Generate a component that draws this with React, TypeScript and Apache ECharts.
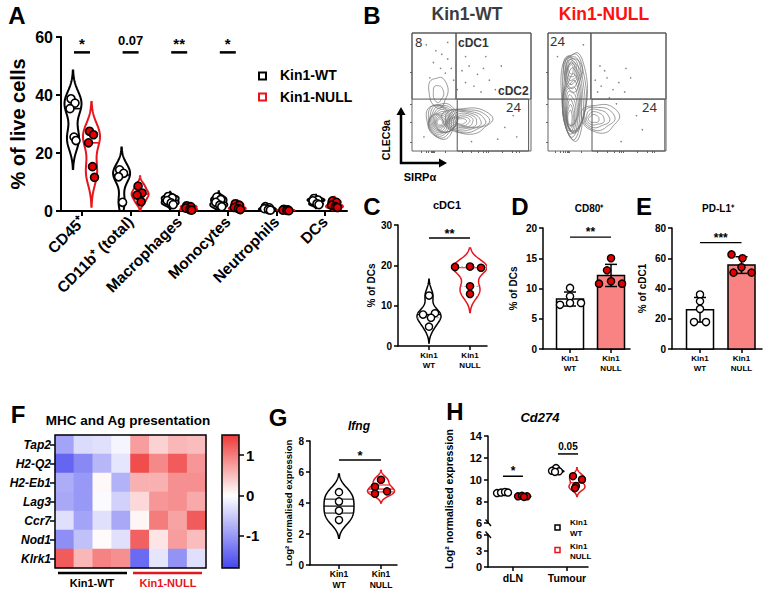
import React, { useEffect, useRef } from "react";
import * as echarts from "echarts";

// ================= DATA =================
// Panel A
const aCategories = ["CD45⁺", "CD11b⁺ (total)", "Macrophages", "Monocytes", "Neutrophils", "DCs"];
const aWT = [
  [38.7, 37.2, 35.3, 25.5, 24.3],
  [14.2, 13.0, 11.8, 3.0],
  [5.0, 4.5, 3.6, 2.8, 2.2],
  [4.8, 4.0, 3.0, 2.0, 1.5],
  [1.5, 1.1, 0.8, 0.5, 0.3],
  [4.3, 3.8, 3.5, 2.5, 2.2],
];
const aNULL = [
  [27.5, 26.3, 23.5, 15.3, 11.6],
  [8.6, 6.2, 5.5, 3.2],
  [1.8, 1.5, 1.0, 0.5, 0.3],
  [2.5, 2.0, 1.2, 0.8, 0.5],
  [0.6, 0.4, 0.3, 0.2, 0.1],
  [3.5, 3.0, 2.0, 1.5, 1.2],
];
const aSigText = ["*", "0.07", "**", "*"];
const aSigLevel = 54.7;

// Panel B (flow plots, 0-100 display units)
const bWTGates = [[0, 44, 37, 100], [37, 44, 100, 100], [38, 0, 98, 44]];
const bNULLGates = [[0, 44, 36.4, 100], [36.4, 44, 100, 100], [37.3, 0, 99, 44]];
// contour families: [cx, cy, rx, ry, peakX, peakY, levels]
const bWTContours = [
  [25, 26, 13, 15, 23, 24, 12],
  [46, 26, 21, 11, 40, 25, 8],
  [22, 50, 8, 13, 22, 47, 2],
];
const bNULLContours = [
  [22, 48, 11, 37, 18, 24, 13],
  [21, 67, 8, 16, 19, 70, 6],
  [44, 28, 16, 12, 37, 27, 5],
];
const bWTDots = [[12, 90], [20, 85], [25, 82], [30, 78], [18, 75], [33, 70], [28, 66], [15, 62], [35, 60], [42, 68], [48, 72], [55, 65], [60, 70], [45, 58], [52, 55], [65, 60], [58, 50], [70, 52], [38, 52], [30, 92], [62, 80], [75, 72], [80, 48], [85, 30], [72, 10], [50, 8], [10, 12], [78, 20], [88, 12], [45, 80], [24, 70]];
const bNULLDots = [[40, 60], [45, 55], [50, 62], [55, 52], [48, 68], [60, 58], [65, 50], [42, 50], [52, 45], [70, 62], [58, 40], [75, 30], [62, 8], [30, 90], [8, 80], [44, 72], [66, 70], [80, 18]];
const bWTLabels = ["8", "cDC1", "cDC2", "24"];
const bNULLLabels = ["24", "24"];

// Panel C (% of DCs, cDC1)
const cWT = [12.5, 7.8, 8.1, 7.0, 4.8];
const cNULL = [19.6, 19.7, 19.4, 14.8, 12.9];
// Panel D (CD80+)
const dWT = [10.1, 8.7, 7.3, 7.6, 7.6];
const dNULL = [15.0, 13.0, 10.8, 11.2, 10.8];
// Panel E (PD-L1+)
const eWT = [36.0, 31.5, 26.5, 17.8, 17.8];
const eNULL = [62.5, 60.0, 54.0, 50.5, 50.5];
const groupLabels = ["Kin1\nWT", "Kin1\nNULL"];

// Panel F heatmap
const fGenes = ["Tap2", "H2-Q2", "H2-Eb1", "Lag3", "Ccr7", "Nod1", "Klrk1"];
const fValues = [
  [-0.9, -0.35, -0.3, -0.1, 0.75, 0.35, 0.55, 0.5],
  [-1.5, -1.15, -0.7, -0.25, 1.35, 0.9, 1.25, 0.8],
  [-0.8, -1.0, 0.05, -0.75, 0.6, 0.6, 0.85, 0.85],
  [-0.85, -1.0, -0.05, -0.45, 0.3, 0.8, 0.85, 0.65],
  [-0.3, -0.9, -0.3, -0.85, 0.08, 1.0, 0.7, 1.25],
  [-1.1, -0.6, 0.03, -0.3, 1.2, 0.2, 0.75, 0.5],
  [1.25, 0.55, 0.95, 0.85, -1.45, -0.25, -1.05, -0.3],
];
const fMin = -1.8;
const fMax = 1.5;
const fTicks = [-1, 0, 1];

// Panel G (Ifng)
const gWT = [4.7, 4.1, 3.5, 2.9];
const gNULL = [5.5, 5.05, 4.6, 4.75];

// Panel H (Cd274)
const hCategories = ["dLN", "Tumour"];
const hWT = [[8.75, 8.8, 8.85, 8.8], [11.05, 10.8, 10.75, 10.7]];
const hNULL = [[8.45, 8.5, 8.45, 8.4], [10.3, 10.0, 9.4, 9.2]];

// ================= STYLE / LAYOUT =================
const FONT = "'Liberation Sans', Arial, Helvetica, sans-serif";
const RED = "#e8141b";
const PT_RED = "#e30000";
const BAR_RED = "#f98383";

const jitA = [-2, 2, -3, 1, 3];
const jitC = { wt: [0, -6, 6, 2, 0], nu: [-15, 0, 11, 0, 0] };
const jitD = { wt: [0, 0, -10, 0, 11], nu: [0, -4, -12, 0, 11] };
const jitE = { wt: [0, 0, 0, -6, 6], nu: [-10, 1, 0, -8, 10] };
const jitG = { wt: [0, 0, 0, 0], nu: [0, -6, -6, 6] };
const jitH = { wt: [[-16, -12, -8, -5], [-11, -15, -8, -12]], nu: [[5, 9, 14, 11], [6, 15, 9, 8]] };

// ================= HELPERS =================
const mean = (a: number[]) => a.reduce((s, v) => s + v, 0) / a.length;
const sdev = (a: number[]) => {
  const m = mean(a);
  return Math.sqrt(a.reduce((s, v) => s + (v - m) * (v - m), 0) / (a.length - 1));
};
const quantile = (a: number[], q: number) => {
  const s = [...a].sort((x, y) => x - y);
  const pos = (s.length - 1) * q;
  const lo = Math.floor(pos), hi = Math.ceil(pos);
  return s[lo] + (s[hi] - s[lo]) * (pos - lo);
};
const bandwidth = (a: number[]) => Math.max(0.75 * 1.06 * sdev(a) * Math.pow(a.length, -0.2), 0.05);

type Violin = { x: number; dx: number; vals: number[]; color: string; hw: number; lw: number; quart?: boolean; dash?: boolean };

function violinSeries(ai: number, violins: Violin[]) {
  return {
    type: "custom", xAxisIndex: ai, yAxisIndex: ai, z: 3, clip: true, silent: true,
    data: violins.map((v) => [v.x, mean(v.vals)]),
    renderItem: (params: any, api: any) => {
      const v = violins[params.dataIndex];
      const h = bandwidth(v.vals);
      const lo = Math.min(...v.vals) - 2.5 * h;
      const hi = Math.max(...v.vals) + 2.5 * h;
      const dens = (y: number) => v.vals.reduce((s, xi) => s + Math.exp(-0.5 * ((y - xi) / h) ** 2), 0);
      const N = 90;
      const ys: number[] = [];
      for (let i = 0; i <= N; i++) ys.push(lo + ((hi - lo) * i) / N);
      const ds = ys.map(dens);
      const dmax = Math.max(...ds);
      const left: number[][] = [], right: number[][] = [];
      ys.forEach((y, i) => {
        const c = api.coord([v.x, y]);
        const w = (v.hw * ds[i]) / dmax;
        left.push([c[0] + v.dx - w, c[1]]);
        right.push([c[0] + v.dx + w, c[1]]);
      });
      const children: any[] = [
        { type: "polygon", shape: { points: left.concat(right.reverse()) }, style: { fill: "none", stroke: v.color, lineWidth: v.lw } },
      ];
      const qs = v.quart ? [0.25, 0.5, 0.75] : [0.5];
      qs.forEach((q) => {
        const y = quantile(v.vals, q);
        const w = (v.hw * dens(y)) / dmax;
        const c = api.coord([v.x, y]);
        children.push({
          type: "line",
          shape: { x1: c[0] + v.dx - w, y1: c[1], x2: c[0] + v.dx + w, y2: c[1] },
          style: { stroke: q === 0.5 ? v.color : v.dash ? "#999" : v.color, lineWidth: q === 0.5 ? Math.max(1, v.lw * 0.8) : 1, lineDash: q !== 0.5 && v.dash ? [2, 2] : null },
        });
      });
      return { type: "group", children };
    },
  };
}

type Pt = { x: number; v: number; dx: number; fill: string; r: number };
function pointSeries(ai: number, pts: Pt[], lw = 1.4) {
  return {
    type: "custom", xAxisIndex: ai, yAxisIndex: ai, z: 6, clip: false, silent: true,
    data: pts.map((p) => [p.x, p.v]),
    renderItem: (params: any, api: any) => {
      const p = pts[params.dataIndex];
      const c = api.coord([api.value(0), api.value(1)]);
      return { type: "circle", shape: { cx: c[0] + p.dx, cy: c[1], r: p.r }, style: { fill: p.fill, stroke: "#000", lineWidth: lw } };
    },
  };
}

type Sig = { x1: number; x2: number; dx1: number; dx2: number; y: number; text: string };
function sigSeries(ai: number, items: Sig[], st: { fs: number; starDy: number; numDy: number; lw: number }) {
  return {
    type: "custom", xAxisIndex: ai, yAxisIndex: ai, z: 7, clip: false, silent: true,
    data: items.map((s) => [s.x1, s.y, s.x2]),
    renderItem: (params: any, api: any) => {
      const s = items[params.dataIndex];
      const a = api.coord([api.value(0), api.value(1)]);
      const b = api.coord([api.value(2), api.value(1)]);
      const x1 = a[0] + s.dx1, x2 = b[0] + s.dx2;
      const isStar = /^\*+$/.test(s.text);
      return {
        type: "group",
        children: [
          { type: "line", shape: { x1, y1: a[1], x2, y2: a[1] }, style: { stroke: "#000", lineWidth: st.lw } },
          {
            type: "text", x: (x1 + x2) / 2, y: a[1] - (isStar ? st.starDy : st.numDy),
            style: { text: s.text, fontSize: isStar ? st.fs + 2 : st.fs, fontWeight: "bold", fontFamily: FONT, fill: "#000", align: "center", verticalAlign: "middle" },
          },
        ],
      };
    },
  };
}

type Bar = { x: number; vals: number[]; fill: string };
function barSeries(ai: number, bars: Bar[], halfW: number) {
  return {
    type: "custom", xAxisIndex: ai, yAxisIndex: ai, z: 2, silent: true,
    data: bars.map((b) => [b.x, mean(b.vals)]),
    renderItem: (params: any, api: any) => {
      const b = bars[params.dataIndex];
      const m = api.value(1);
      const sd = sdev(b.vals);
      const top = api.coord([b.x, m]);
      const base = api.coord([b.x, 0]);
      const hi = api.coord([b.x, m + sd]);
      const lo = api.coord([b.x, m - sd]);
      const cap = 6;
      return {
        type: "group",
        children: [
          { type: "rect", shape: { x: top[0] - halfW, y: top[1], width: 2 * halfW, height: base[1] - top[1] }, style: { fill: b.fill, stroke: "#000", lineWidth: 1.5 } },
          { type: "line", shape: { x1: top[0], y1: hi[1], x2: top[0], y2: lo[1] }, style: { stroke: "#000", lineWidth: 1.5 } },
          { type: "line", shape: { x1: top[0] - cap, y1: hi[1], x2: top[0] + cap, y2: hi[1] }, style: { stroke: "#000", lineWidth: 1.5 } },
          { type: "line", shape: { x1: top[0] - cap, y1: lo[1], x2: top[0] + cap, y2: lo[1] }, style: { stroke: "#000", lineWidth: 1.5 } },
        ],
      };
    },
  };
}

function contourSeries(ai: number, fams: number[][]) {
  return {
    type: "custom", xAxisIndex: ai, yAxisIndex: ai, z: 2, clip: true, silent: true,
    data: fams.map((f) => [f[0], f[1]]),
    renderItem: (params: any, api: any) => {
      const [cx, cy, rx, ry, px, py, n] = fams[params.dataIndex];
      const children: any[] = [];
      for (let k = 0; k < n; k++) {
        const s = 1 - (k / n) * 0.9;
        const ccx = px + (cx - px) * s, ccy = py + (cy - py) * s;
        const pts: number[][] = [];
        for (let t = 0; t < 48; t++) {
          const th = (t / 48) * Math.PI * 2;
          const wob = 1 + 0.07 * Math.sin(3 * th + k * 0.9) + 0.04 * Math.cos(5 * th + k);
          pts.push(api.coord([ccx + rx * s * wob * Math.cos(th), ccy + ry * s * wob * Math.sin(th)]));
        }
        children.push({ type: "polygon", shape: { points: pts }, style: { fill: "none", stroke: "#707070", lineWidth: 0.7 } });
      }
      return { type: "group", children };
    },
  };
}

function gateSeries(ai: number, gates: number[][]) {
  return {
    type: "custom", xAxisIndex: ai, yAxisIndex: ai, z: 4, clip: false, silent: true,
    data: gates.map((g) => [g[0], g[1], g[2], g[3]]),
    renderItem: (params: any, api: any) => {
      const a = api.coord([api.value(0), api.value(1)]);
      const b = api.coord([api.value(2), api.value(3)]);
      return { type: "rect", shape: { x: a[0], y: b[1], width: b[0] - a[0], height: a[1] - b[1] }, style: { fill: "none", stroke: "#555", lineWidth: 1 } };
    },
  };
}

const hmColor = (v: number) => {
  const white = [255, 255, 255];
  const end = v >= 0 ? [238, 58, 58] : [70, 70, 238];
  const t = v >= 0 ? Math.min(1, v / fMax) : Math.min(1, v / fMin);
  const c = white.map((w, i) => Math.round(w + (end[i] - w) * t));
  return `rgb(${c[0]},${c[1]},${c[2]})`;
};

const txt = (x: number, y: number, text: string, o: any = {}) => ({
  type: "text", x, y, rotation: o.rotation || 0, z: 50,
  style: {
    text, fontFamily: o.family || FONT, fontSize: o.size || 12, fontWeight: o.weight || "bold", fontStyle: o.style || "normal",
    fill: o.color || "#000", align: o.align || "center", verticalAlign: o.valign || "middle", lineHeight: o.lh,
  },
});
const ln = (x1: number, y1: number, x2: number, y2: number, color = "#000", w = 1.5) => ({
  type: "line", z: 50, shape: { x1, y1, x2, y2 }, style: { stroke: color, lineWidth: w },
});
const box = (x: number, y: number, w: number, h: number, color = "#000", lw = 1.5) => ({
  type: "rect", z: 60, shape: { x, y, width: w, height: h }, style: { fill: "none", stroke: color, lineWidth: lw },
});

// ================= OPTION =================
function buildOption() {
  const grids = [
    { left: 61, top: 37, width: 286, height: 174 }, // 0 A
    { left: 412, top: 33, width: 119, height: 118, show: true, borderColor: "#666", borderWidth: 1 }, // 1 B WT
    { left: 548, top: 33, width: 118, height: 118, show: true, borderColor: "#666", borderWidth: 1 }, // 2 B NULL
    { left: 398, top: 225, width: 89, height: 121 }, // 3 C
    { left: 543, top: 228, width: 87, height: 121 }, // 4 D
    { left: 672, top: 228, width: 90, height: 121 }, // 5 E
    { left: 55, top: 435, width: 151, height: 133 }, // 6 F heatmap
    { left: 222, top: 435, width: 17, height: 133 }, // 7 F colorbar
    { left: 310, top: 441, width: 87, height: 124 }, // 8 G
    { left: 488, top: 436, width: 100, height: 87 }, // 9 H upper
    { left: 488, top: 535, width: 100, height: 32 }, // 10 H lower
  ];

  const lab = (size: number, extra: any = {}) => ({ color: "#000", fontFamily: FONT, fontWeight: "bold", fontSize: size, ...extra });
  const yAx = (gi: number, min: number, max: number, interval: number, w: number, size: number, extra: any = {}) => ({
    gridIndex: gi, type: "value", min, max, interval,
    axisLine: { show: true, onZero: false, lineStyle: { color: "#000", width: w } },
    axisTick: { show: true, length: 4, lineStyle: { color: "#000", width: w } },
    axisLabel: lab(size, { margin: 6 }),
    splitLine: { show: false },
    ...extra,
  });
  const xGroupAx = (gi: number, min: number, max: number, w: number, size: number, labels: string[], extra: any = {}) => ({
    gridIndex: gi, type: "value", min, max,
    axisLine: { show: true, onZero: false, lineStyle: { color: "#000", width: w } },
    axisTick: { show: true, length: 4, customValues: labels.map((_, i) => i + 1), lineStyle: { color: "#000", width: w } },
    axisLabel: lab(size, { customValues: labels.map((_, i) => i + 1), formatter: (v: number) => labels[Math.round(v) - 1] || "", lineHeight: size + 2, margin: 4 }),
    splitLine: { show: false },
    ...extra,
  });
  const hiddenAx = (gi: number, type = "value", extra: any = {}) => ({ gridIndex: gi, type, show: false, ...extra });

  const xAxes: any[] = [
    {
      gridIndex: 0, type: "value", min: -0.432, max: 5.453,
      axisLine: { show: true, onZero: false, lineStyle: { color: "#000", width: 2 } },
      axisTick: { show: true, length: 5, customValues: [0, 1, 2, 3, 4, 5], lineStyle: { color: "#000", width: 2 } },
      axisLabel: lab(15.5, { customValues: [0, 1, 2, 3, 4, 5], formatter: (v: number) => aCategories[Math.round(v)], rotate: 45, margin: 8 }),
      splitLine: { show: false },
    },
    {
      gridIndex: 1, type: "value", min: 0, max: 100, axisLine: { show: false, onZero: false },
      axisTick: { show: true, length: 2, customValues: [8, 12, 14, 16, 17, 18, 19, 28, 42, 50, 56, 60, 62, 64, 76, 84, 88, 90], lineStyle: { color: "#666" } },
      axisLabel: { show: false }, splitLine: { show: false },
    },
    {
      gridIndex: 2, type: "value", min: 0, max: 100, axisLine: { show: false, onZero: false },
      axisTick: { show: true, length: 2, customValues: [6, 10, 13, 15, 16, 17, 18, 28, 42, 50, 56, 60, 62, 64, 76, 84, 88, 90], lineStyle: { color: "#666" } },
      axisLabel: { show: false }, splitLine: { show: false },
    },
    xGroupAx(3, 0.244, 2.414, 1.5, 8, groupLabels),
    xGroupAx(4, 0.341, 2.463, 1.5, 8, groupLabels),
    xGroupAx(5, 0.325, 2.494, 1.5, 8, groupLabels),
    hiddenAx(6, "category", { data: [0, 1, 2, 3, 4, 5, 6, 7].map(String) }),
    hiddenAx(7),
    xGroupAx(8, 0.31, 2.381, 1.5, 8.5, groupLabels),
    hiddenAx(9, "value", { min: 0.537, max: 2.389 }),
    xGroupAx(10, 0.537, 2.389, 1.5, 10.5, hCategories, { axisLabel: lab(10.5, { customValues: [1, 2], formatter: (v: number) => hCategories[Math.round(v) - 1] || "", margin: 5 }) }),
  ];

  const yAxes: any[] = [
    yAx(0, 0, 60, 20, 2, 16, {
      axisTick: { show: true, length: 5, lineStyle: { color: "#000", width: 2 } },
      axisLabel: lab(16, { margin: 8 }),
      name: "% of live cells", nameLocation: "middle", nameGap: 33, nameTextStyle: lab(20),
    }),
    {
      gridIndex: 1, type: "value", min: 0, max: 100, axisLine: { show: false, onZero: false },
      axisTick: { show: true, length: 2, customValues: [7, 24, 40, 67], lineStyle: { color: "#666" } },
      axisLabel: { show: false }, splitLine: { show: false },
    },
    {
      gridIndex: 2, type: "value", min: 0, max: 100, axisLine: { show: false, onZero: false },
      axisTick: { show: true, length: 2, customValues: [7, 24, 40, 67], lineStyle: { color: "#666" } },
      axisLabel: { show: false }, splitLine: { show: false },
    },
    yAx(3, 0, 30, 10, 1.5, 10, { name: "% of DCs", nameLocation: "middle", nameGap: 21, nameTextStyle: lab(10) }),
    yAx(4, 0, 20, 5, 1.5, 10, { name: "% of DCs", nameLocation: "middle", nameGap: 25, nameTextStyle: lab(10) }),
    yAx(5, 0, 80, 20, 1.5, 10, { name: "% of cDC1", nameLocation: "middle", nameGap: 25, nameTextStyle: lab(10) }),
    {
      gridIndex: 6, type: "category", data: fGenes, inverse: true,
      axisLine: { show: false },
      axisTick: { show: true, length: 5, alignWithLabel: true, lineStyle: { color: "#000", width: 1.5 } },
      axisLabel: lab(12, { fontStyle: "italic", margin: 4 }),
      splitLine: { show: false },
    },
    {
      gridIndex: 7, type: "value", min: fMin, max: fMax, position: "right",
      axisLine: { show: false, onZero: false },
      axisTick: { show: true, length: 5, customValues: fTicks, lineStyle: { color: "#000", width: 1.5 } },
      axisLabel: lab(15, { customValues: fTicks, margin: 7 }),
      splitLine: { show: false },
    },
    yAx(8, 0, 8, 2, 1.5, 10, { name: "Log² normalised expression", nameLocation: "middle", nameGap: 17, nameTextStyle: lab(9.5) }),
    yAx(9, 6, 14, 2, 1.5, 11),
    yAx(10, 0, 6, 3, 1.5, 11),
  ];

  const series: any[] = [];

  // ---- A
  const aViolins: Violin[] = [];
  const aPts: Pt[] = [];
  aCategories.forEach((_, i) => {
    aViolins.push({ x: i, dx: -9, vals: aWT[i], color: "#000", hw: 8.5, lw: 2 });
    aViolins.push({ x: i, dx: 9.5, vals: aNULL[i], color: RED, hw: 8.5, lw: 2 });
    aWT[i].forEach((v, j) => aPts.push({ x: i, v, dx: -9 + jitA[j], fill: "#fff", r: 4 }));
    aNULL[i].forEach((v, j) => aPts.push({ x: i, v, dx: 9.5 + jitA[j], fill: PT_RED, r: 4 }));
  });
  series.push(violinSeries(0, aViolins));
  series.push(pointSeries(0, aPts, 1.6));
  series.push(sigSeries(0, aSigText.map((t, i) => ({ x1: i, x2: i, dx1: -8, dx2: 8, y: aSigLevel, text: t })), { fs: 13, starDy: 8.5, numDy: 11.5, lw: 2.5 }));

  // ---- B
  series.push(contourSeries(1, bWTContours));
  series.push(contourSeries(2, bNULLContours));
  series.push({ type: "scatter", xAxisIndex: 1, yAxisIndex: 1, data: bWTDots, symbolSize: 1.6, itemStyle: { color: "#666" }, silent: true, z: 3 });
  series.push({ type: "scatter", xAxisIndex: 2, yAxisIndex: 2, data: bNULLDots, symbolSize: 1.6, itemStyle: { color: "#666" }, silent: true, z: 3 });
  series.push(gateSeries(1, bWTGates));
  series.push(gateSeries(2, bNULLGates));

  // ---- C
  series.push(violinSeries(3, [
    { x: 1, dx: 0, vals: cWT, color: "#000", hw: 12, lw: 1.5, quart: true, dash: true },
    { x: 2, dx: 0, vals: cNULL, color: RED, hw: 17, lw: 1.5, quart: true, dash: true },
  ]));
  series.push(pointSeries(3, [
    ...cWT.map((v, j) => ({ x: 1, v, dx: jitC.wt[j], fill: "#fff", r: 3.6 })),
    ...cNULL.map((v, j) => ({ x: 2, v, dx: jitC.nu[j], fill: PT_RED, r: 3.6 })),
  ]));
  series.push(sigSeries(3, [{ x1: 1, x2: 2, dx1: 0, dx2: 0, y: 26.8, text: "**" }], { fs: 11, starDy: 4, numDy: 6, lw: 1.5 }));

  // ---- D
  series.push(barSeries(4, [{ x: 1, vals: dWT, fill: "#fff" }, { x: 2, vals: dNULL, fill: BAR_RED }], 13.5));
  series.push(pointSeries(4, [
    ...dWT.map((v, j) => ({ x: 1, v, dx: jitD.wt[j], fill: "#fff", r: 3.6 })),
    ...dNULL.map((v, j) => ({ x: 2, v, dx: jitD.nu[j], fill: PT_RED, r: 3.6 })),
  ]));
  series.push(sigSeries(4, [{ x1: 1, x2: 2, dx1: 0, dx2: 0, y: 18.5, text: "**" }], { fs: 10, starDy: 4.8, numDy: 6, lw: 1.3 }));

  // ---- E
  series.push(barSeries(5, [{ x: 1, vals: eWT, fill: "#fff" }, { x: 2, vals: eNULL, fill: BAR_RED }], 13.5));
  series.push(pointSeries(5, [
    ...eWT.map((v, j) => ({ x: 1, v, dx: jitE.wt[j], fill: "#fff", r: 3.6 })),
    ...eNULL.map((v, j) => ({ x: 2, v, dx: jitE.nu[j], fill: PT_RED, r: 3.6 })),
  ]));
  series.push(sigSeries(5, [{ x1: 1, x2: 2, dx1: 0, dx2: 0, y: 70.3, text: "***" }], { fs: 10, starDy: 4.8, numDy: 6, lw: 1.3 }));

  // ---- F heatmap
  const hmData: number[][] = [];
  fValues.forEach((row, r) => row.forEach((v, c) => hmData.push([c, r, v])));
  const hmIndex = series.length;
  series.push({ type: "heatmap", xAxisIndex: 6, yAxisIndex: 6, data: hmData, silent: true, itemStyle: { borderWidth: 0 } });

  // ---- G
  series.push(violinSeries(8, [
    { x: 1, dx: 0, vals: gWT, color: "#000", hw: 15, lw: 1.5, quart: true },
    { x: 2, dx: 0, vals: gNULL, color: RED, hw: 13.5, lw: 1.5, quart: true },
  ]));
  series.push(pointSeries(8, [
    ...gWT.map((v, j) => ({ x: 1, v, dx: jitG.wt[j], fill: "#fff", r: 3.6 })),
    ...gNULL.map((v, j) => ({ x: 2, v, dx: jitG.nu[j], fill: PT_RED, r: 3.6 })),
  ]));
  series.push(sigSeries(8, [{ x1: 1, x2: 2, dx1: 0, dx2: 0, y: 6.77, text: "*" }], { fs: 11, starDy: 4.5, numDy: 6, lw: 1.5 }));

  // ---- H
  const hViol: Violin[] = [];
  const hPts: Pt[] = [];
  hCategories.forEach((_, i) => {
    hViol.push({ x: i + 1, dx: -10, vals: hWT[i], color: "#000", hw: 7, lw: 1.3 });
    hViol.push({ x: i + 1, dx: 10, vals: hNULL[i], color: RED, hw: 8, lw: 1.5 });
    hWT[i].forEach((v, j) => hPts.push({ x: i + 1, v, dx: jitH.wt[i][j], fill: "#fff", r: 3.5 }));
    hNULL[i].forEach((v, j) => hPts.push({ x: i + 1, v, dx: jitH.nu[i][j], fill: PT_RED, r: 3.5 }));
  });
  series.push(violinSeries(9, hViol));
  series.push(pointSeries(9, hPts));
  series.push(sigSeries(9, [
    { x1: 1, x2: 1, dx1: -10, dx2: 10, y: 10.3, text: "*" },
    { x1: 2, x2: 2, dx1: -9, dx2: 11, y: 12.35, text: "0.05" },
  ], { fs: 10, starDy: 5, numDy: 7, lw: 1.5 }));

  const stops = Array.from({ length: 34 }, (_, i) => hmColor(fMin + ((fMax - fMin) * i) / 33));

  const graphic: any[] = [
    // panel letters
    txt(17, 15, "A", { size: 24 }),
    txt(372, 15, "B", { size: 24 }),
    txt(372, 206, "C", { size: 24 }),
    txt(520, 206, "D", { size: 24 }),
    txt(644, 206, "E", { size: 24 }),
    txt(18, 414, "F", { size: 24 }),
    txt(278, 417, "G", { size: 24 }),
    txt(455, 411, "H", { size: 24 }),
    // A legend
    box(259, 72.5, 7, 7, "#000", 2),
    txt(280, 75, "Kin1-WT", { size: 14, align: "left" }),
    box(259, 93.5, 7, 7, RED, 2),
    txt(280, 97, "Kin1-NULL", { size: 14, align: "left" }),
    // B
    txt(467, 14, "Kin1-WT", { size: 17.5, color: "#3c3c3c" }),
    txt(604, 14, "Kin1-NULL", { size: 17.5, color: "#ff1010" }),
    txt(415, 42, bWTLabels[0], { size: 13, weight: "normal", align: "left", color: "#333", family: "'Noto Sans', sans-serif" }),
    txt(458, 43, bWTLabels[1], { size: 12, align: "left", color: "#333" }),
    txt(498, 91, bWTLabels[2], { size: 12, align: "left", color: "#333" }),
    txt(506, 107, bWTLabels[3], { size: 13, weight: "normal", align: "left", color: "#333", family: "'Noto Sans', sans-serif" }),
    txt(550, 41, bNULLLabels[0], { size: 13, weight: "normal", align: "left", color: "#333", family: "'Noto Sans', sans-serif" }),
    txt(642, 107, bNULLLabels[1], { size: 13, weight: "normal", align: "left", color: "#333", family: "'Noto Sans', sans-serif" }),
    ln(401, 164, 401, 114, "#000", 2.5),
    { type: "polygon", z: 50, shape: { points: [[396.5, 115], [405.5, 115], [401, 107]] }, style: { fill: "#000" } },
    ln(400, 163, 440, 163, "#000", 2.5),
    { type: "polygon", z: 50, shape: { points: [[439, 158.5], [439, 167.5], [447, 163]] }, style: { fill: "#000" } },
    txt(386, 140, "CLEC9a", { size: 10.5, rotation: Math.PI / 2 }),
    txt(420, 177, "SIRPα", { size: 11 }),
    // C D E titles
    txt(447, 205, "cDC1", { size: 11 }),
    txt(589, 208, "CD80⁺", { size: 10 }),
    txt(718, 208, "PD-L1⁺", { size: 10 }),
    // F
    txt(128, 420, "MHC and Ag presentation", { size: 13.5 }),
    box(55, 435, 151, 133, "#000", 1.5),
    box(222, 435, 17, 133, "#000", 1.5),
    ln(58, 573, 127, 573, "#000", 2.5),
    txt(92, 583, "Kin1-WT", { size: 11 }),
    ln(133, 573, 202, 573, RED, 2.5),
    txt(168, 583, "Kin1-NULL", { size: 11, color: RED }),
    // G
    txt(359, 426, "Ifng", { size: 12, style: "italic" }),
    // H
    txt(540, 417, "Cd274", { size: 13, style: "italic" }),
    txt(449, 499, "Log² normalised expression", { size: 10.5, rotation: Math.PI / 2 }),
    ln(485.5, 519.5, 491, 526, "#000", 1.3),
    ln(485.5, 531.5, 491, 538, "#000", 1.3),
    box(555, 525, 5, 5, "#000", 1.5),
    txt(570, 522, "Kin1", { size: 8, align: "left" }),
    txt(570, 533, "WT", { size: 8, align: "left" }),
    box(555, 547.5, 5, 5, RED, 1.5),
    txt(570, 546, "Kin1", { size: 8, align: "left" }),
    txt(570, 556, "NULL", { size: 8, align: "left" }),
  ];

  return {
    animation: false,
    backgroundColor: "#fff",
    textStyle: { fontFamily: FONT },
    grid: grids,
    xAxis: xAxes,
    yAxis: yAxes,
    visualMap: [{
      type: "continuous", min: fMin, max: fMax, seriesIndex: hmIndex, left: 222, top: 435,
      itemWidth: 17, itemHeight: 133, calculable: false, padding: 0, inRange: { color: stops }, text: ["", ""], textGap: 0,
    }],
    series,
    graphic,
  };
}

export default function App() {
  const ref = useRef<HTMLDivElement>(null);
  useEffect(() => {
    const chart = echarts.init(ref.current!, null, { renderer: "svg" });
    chart.setOption(buildOption() as any);
    return () => chart.dispose();
  }, []);
  return <div ref={ref} style={{ position: "absolute", left: 0, top: 0, width: 770, height: 590, background: "#fff" }} />;
}
